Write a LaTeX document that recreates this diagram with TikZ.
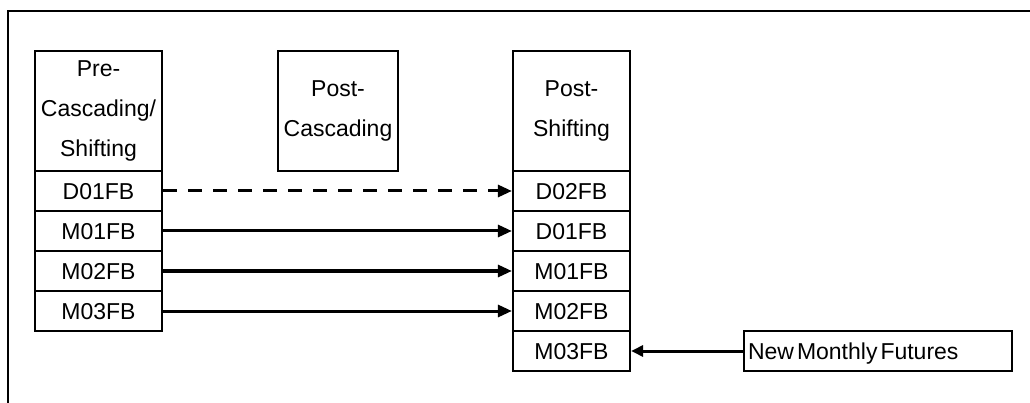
\documentclass[tikz,border=0pt]{standalone}
\usepackage{fontspec}
\setmainfont{Liberation Sans}
\usetikzlibrary{arrows.meta}
\begin{document}
\begin{tikzpicture}[x=1pt,y=-1pt,
  lbl/.style={font=\fontsize{23}{40}\selectfont},
  cell/.style={lbl, draw, line width=2.2pt, minimum height=40pt, inner sep=0pt, text height=16.5pt, text depth=0pt},
  head/.style={lbl, draw, line width=2.2pt, minimum height=120pt, inner sep=0pt, align=center},
  arr/.style={line width=3pt, -{Triangle[length=14pt,width=12pt]}},
  dsh/.style={dash pattern=on 14pt off 11pt}
]
\useasboundingbox (0,0) rectangle (1030,403);
\draw[line width=2.2pt] (8,403) -- (8,11) -- (1030,11);
% left column
\node[head, minimum width=127pt] (lh) at (98.5,111) {Pre-\\Cascading/\\Shifting};
\node[cell, minimum width=127pt] (l1) at (98.5,191) {D01FB};
\node[cell, minimum width=127pt] (l2) at (98.5,231) {M01FB};
\node[cell, minimum width=127pt] (l3) at (98.5,271) {M02FB};
\node[cell, minimum width=127pt] (l4) at (98.5,311) {M03FB};
% middle
\node[head, minimum width=120pt] (mh) at (338,111) {Post-\\Cascading};
% right column
\node[head, minimum width=117pt] (rh) at (571.5,111) {Post-\\Shifting};
\node[cell, minimum width=117pt] (r1) at (571.5,191) {D02FB};
\node[cell, minimum width=117pt] (r2) at (571.5,231) {D01FB};
\node[cell, minimum width=117pt] (r3) at (571.5,271) {M01FB};
\node[cell, minimum width=117pt] (r4) at (571.5,311) {M02FB};
\node[cell, minimum width=117pt] (r5) at (571.5,351) {M03FB};
% new
\node[cell, minimum width=268pt, text width=260pt, align=left] (nm) at (878,351) {\spaceskip=3pt New Monthly Futures};
% arrows
\draw[arr, dsh] (l1.east) -- (r1.west);
\draw[arr] (l2.east) -- (r2.west);
\draw[arr] (l3.east) -- (r3.west);
\draw[arr] (l4.east) -- (r4.west);
\draw[arr, -{Triangle[length=12pt,width=11pt]}] (nm.west) -- (r5.east);
\end{tikzpicture}
\end{document}
